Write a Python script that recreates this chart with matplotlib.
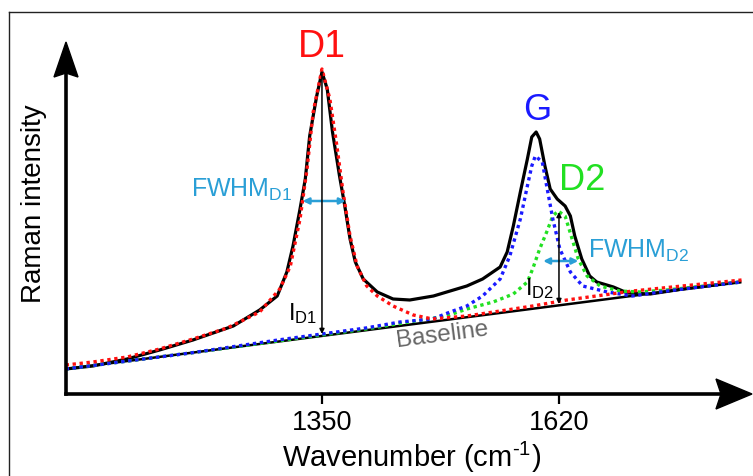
import matplotlib
matplotlib.use("Agg")
import matplotlib.pyplot as plt
from matplotlib.lines import Line2D
from matplotlib.patches import Polygon

plt.rcParams['font.family'] = ['Liberation Sans', 'DejaVu Sans']
plt.rcParams['mathtext.fontset'] = 'custom'
plt.rcParams['mathtext.rm'] = 'Liberation Sans'
plt.rcParams['mathtext.it'] = 'Liberation Sans:italic'

# measured spectrum (wavenumber, intensity a.u.)
spec_w = [1058, 1089, 1128, 1165, 1203, 1249, 1279, 1299, 1310, 1317, 1325, 1331,
          1336, 1344, 1350, 1356, 1362, 1370, 1376, 1382, 1388, 1397, 1413, 1431,
          1450, 1477, 1515, 1533, 1553, 1561, 1568, 1576, 1584, 1589, 1594, 1598,
          1604, 1610, 1618, 1627, 1633, 1638, 1646, 1655, 1663, 1682, 1698, 1724,
          1761, 1826]
spec_i = [25, 28, 35, 44, 54, 68, 84, 98, 122, 148, 185, 215,
          258, 298, 322, 305, 262, 218, 188, 155, 132, 115, 102, 95,
          94, 98, 108, 115, 127, 142, 168, 202, 235, 257, 262, 255,
          228, 205, 195, 188, 178, 158, 135, 118, 112, 107, 101, 100,
          105, 112]

# fitted bands (each drawn on top of the baseline)
d1_w = [1058, 1089, 1128, 1165, 1203, 1242, 1279, 1302, 1314, 1325, 1333, 1340,
        1350, 1359, 1367, 1374, 1382, 1390, 1401, 1413, 1431, 1454, 1476, 1515,
        1553, 1590, 1629, 1704, 1828]
d1_i = [29, 32, 37, 45, 55, 66, 82, 105, 128, 175, 225, 282,
        325, 295, 248, 202, 158, 128, 108, 98, 88, 79, 75, 78,
        83, 88, 94, 103, 114]

g_w = [1058, 1200, 1300, 1400, 1439, 1476, 1496, 1515, 1533, 1553, 1564, 1576,
       1584, 1589, 1593, 1601, 1606, 1613, 1621, 1633, 1647, 1675, 1704, 1743, 1828]
g_i = [25, 41, 54, 66, 72, 75, 82, 88, 98, 115, 138, 175,
       208, 228, 238, 232, 208, 175, 145, 122, 108, 102, 98, 103, 112]

d2_w = [1058, 1200, 1300, 1400, 1492, 1515, 1545, 1568, 1584, 1590, 1598, 1606,
        1613, 1619, 1627, 1635, 1642, 1652, 1667, 1689, 1712, 1743, 1828]
d2_i = [25, 41, 53, 65, 78, 85, 92, 100, 112, 125, 145, 162,
        178, 183, 178, 155, 135, 118, 108, 103, 102, 104, 112]

base_w = [1058, 1826]
base_i = [25, 112]

tick_pos = [1350, 1620]
tick_lab = ['1350', '1620']

W, H = 753, 477
fig = plt.figure(figsize=(W / 100, H / 100), dpi=100)


def fx(px):
    return px / W


def fy(py):
    return 1 - py / H


ax = fig.add_axes([fx(66), fy(395), fx(752) - fx(66), fy(43) - fy(395)])
ax.set_xlim(1058.4, 1839.9)
ax.set_ylim(0, 352)
for s in ax.spines.values():
    s.set_visible(False)
ax.set_yticks([])
ax.set_xticks(tick_pos)
ax.set_xticklabels(tick_lab, fontsize=19.5)
ax.tick_params(axis='x', direction='out', length=7, width=1.6, pad=4)

dots = (0, (1, 1.1))
ax.plot(base_w, base_i, color='black', lw=1.8, zorder=2)
ax.plot(spec_w, spec_i, color='black', lw=2.3, zorder=2, solid_joinstyle='round')
ax.plot(d2_w, d2_i, color='#22e022', lw=2.4, ls=dots, zorder=3)
ax.plot(g_w, g_i, color='#1a1aff', lw=2.4, ls=dots, zorder=3)
ax.plot(d1_w, d1_i, color='#ff1010', lw=2.4, ls=dots, zorder=3)

# peak labels
ax.text(1350, 348, 'D1', color='#ff1010', fontsize=27, ha='center', va='center')
ax.text(1595, 285, 'G', color='#1a1aff', fontsize=26, ha='center', va='center')
ax.text(1646, 214, 'D2', color='#22e022', fontsize=26, ha='center', va='center')

cyan = '#2a9fd6'
ax.annotate('', xy=(1328, 193), xytext=(1377, 193),
            arrowprops=dict(arrowstyle='<|-|>', color=cyan, lw=1.8,
                            mutation_scale=9, shrinkA=0, shrinkB=0))
ax.text(1317, 198, r'FWHM$_{\mathrm{D1}}$', color=cyan, fontsize=18,
        ha='right', va='baseline')
ax.annotate('', xy=(1602, 133), xytext=(1642, 133),
            arrowprops=dict(arrowstyle='<|-|>', color=cyan, lw=1.8,
                            mutation_scale=9, shrinkA=0, shrinkB=0))
ax.text(1653, 137, r'FWHM$_{\mathrm{D2}}$', color=cyan, fontsize=18,
        ha='left', va='baseline')

ax.annotate('', xy=(1350, 60), xytext=(1350, 322),
            arrowprops=dict(arrowstyle='-|>', color='black', lw=1.1,
                            mutation_scale=7, shrinkA=0, shrinkB=0))
ax.text(1345, 75, r'I$_{\mathrm{D1}}$', color='black', fontsize=17,
        ha='right', va='baseline')
ax.annotate('', xy=(1620, 90), xytext=(1620, 182),
            arrowprops=dict(arrowstyle='<|-|>', color='black', lw=1.1,
                            mutation_scale=7, shrinkA=0, shrinkB=0))
ax.text(1615, 100, r'I$_{\mathrm{D2}}$', color='black', fontsize=17,
        ha='right', va='baseline')

ax.text(1487, 60, 'Baseline', color='#666666', fontsize=17.5, rotation=7.4,
        ha='center', va='center')

# axes with arrow heads
fig.add_artist(Line2D([fx(66), fx(725)], [fy(395), fy(395)], color='black',
                      lw=2.6, solid_capstyle='projecting'))
fig.add_artist(Line2D([fx(66), fx(66)], [fy(395), fy(72)], color='black',
                      lw=2.6, solid_capstyle='projecting'))
fig.add_artist(Polygon([(fx(752), fy(395)), (fx(716), fy(380)), (fx(721), fy(395)),
                        (fx(716), fy(410))], closed=True, color='black'))
fig.add_artist(Polygon([(fx(66), fy(43)), (fx(54), fy(78)), (fx(66), fy(74)),
                        (fx(78), fy(78))], closed=True, color='black'))

# outer frame
fig.add_artist(Line2D([fx(9), fx(752)], [fy(13), fy(13)], color='#222222', lw=1.0))
fig.add_artist(Line2D([fx(9), fx(9)], [fy(13), fy(477)], color='#222222', lw=1.0))

fig.text(fx(412), fy(457), r'Wavenumber (cm$^{\text{-1}}$)', fontsize=21,
         ha='center', va='center')
fig.text(fx(34), fy(204), 'Raman intensity', fontsize=20, rotation=90,
         ha='center', va='center')

fig.savefig('out.png', dpi=100)
